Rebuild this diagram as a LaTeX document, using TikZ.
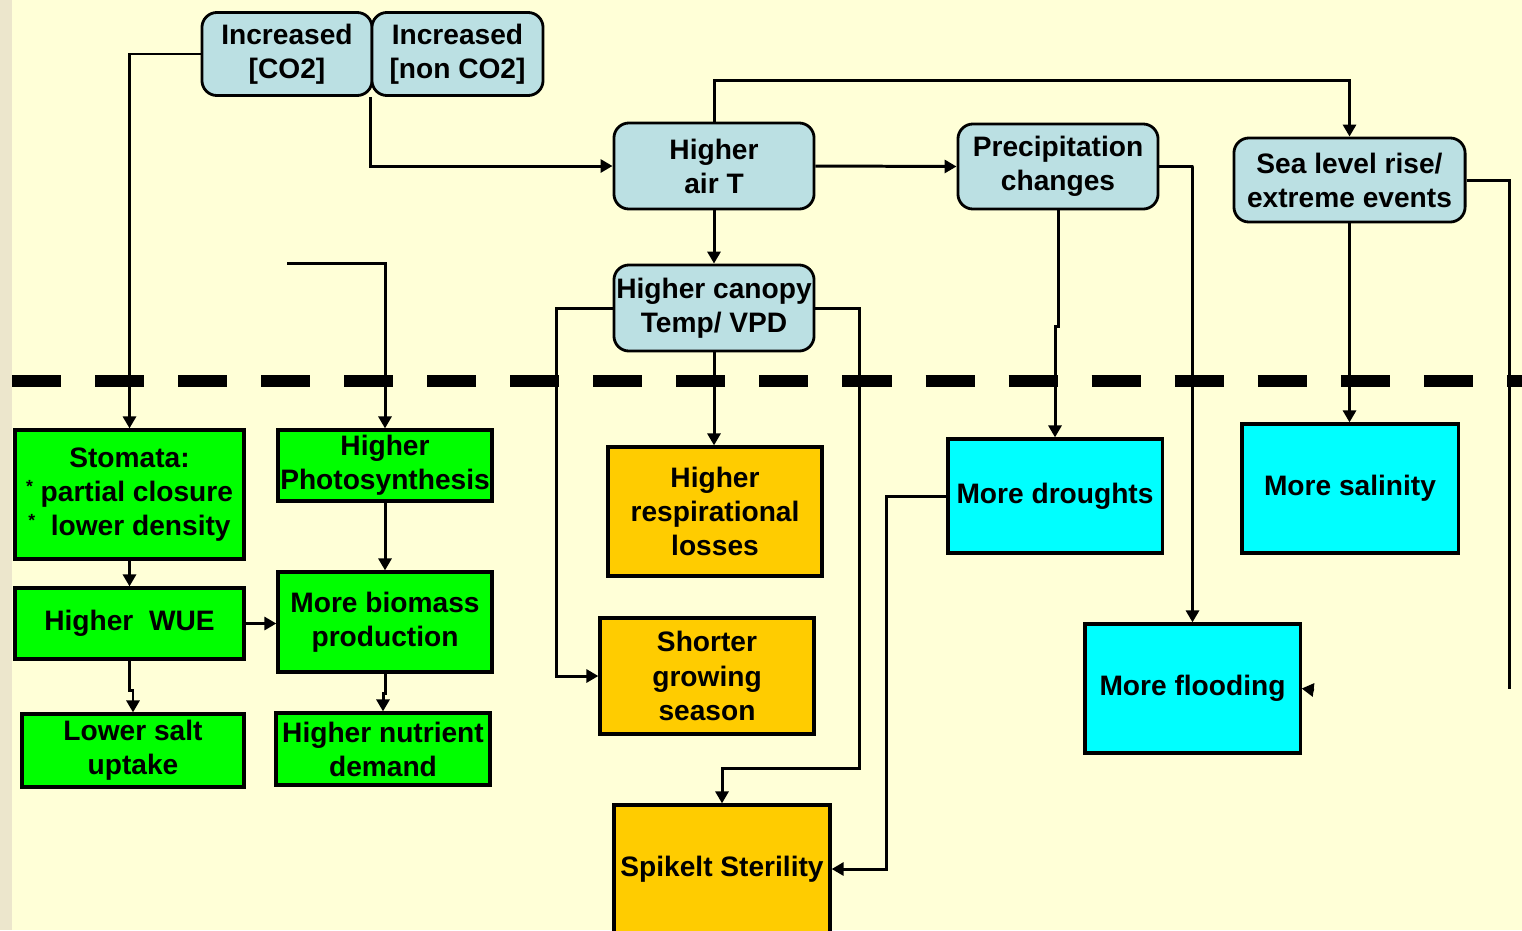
\documentclass[tikz,border=0pt]{standalone}
\usepackage{fontspec}
\setmainfont{Liberation Sans}
\usepackage{tikz}
\usetikzlibrary{arrows.meta}
\usepackage{xcolor}

\definecolor{bgyellow}{RGB}{255,255,215}
\definecolor{stripbeige}{RGB}{236,230,204}
\definecolor{driverblue}{RGB}{187,224,227}
\definecolor{plantgreen}{RGB}{0,255,0}
\definecolor{heatorange}{RGB}{255,204,0}
\definecolor{watercyan}{RGB}{0,255,255}

\newcommand{\stmark}{\raisebox{0.6ex}{\fontsize{5}{5}\selectfont *}}

\begin{document}
\begin{tikzpicture}[x=0.01cm, y=-0.01cm,
    every node/.style={font=\bfseries\fontsize{8}{9.7}\selectfont, align=center, inner sep=0pt},
    driver/.style={draw, line width=0.8pt, fill=driverblue, rounded corners=1.5mm},
    plantbox/.style={draw, line width=0.9pt, fill=plantgreen},
    heatbox/.style={draw, line width=0.9pt, fill=heatorange},
    waterbox/.style={draw, line width=0.9pt, fill=watercyan},
    link/.style={line width=0.85pt, -{Triangle[length=1.2mm,width=1.3mm]}}]

    % Background
    \fill[bgyellow] (0,0) rectangle (1522,930);
    \fill[stripbeige] (0,0) rectangle (12,930);
    \useasboundingbox (0,0) rectangle (1522,930);

    % Divider
    \draw[line width=0.12cm, dash pattern=on 0.49cm off 0.34cm] (12,381) -- (1522,381);

    % Drivers
    \node[driver, minimum width=1.70cm, minimum height=0.83cm] (co2) at (287,54) {Increased\\{[}CO2{]}};
    \node[driver, minimum width=1.71cm, minimum height=0.83cm] (nonco2) at (457.5,54) {Increased\\{[}non CO2{]}};
    \node[driver, minimum width=2.00cm, minimum height=0.86cm] (airT) at (714,166) {Higher\\air T};
    \node[driver, minimum width=2.00cm, minimum height=0.86cm] (canopy) at (714,308) {Higher canopy\\Temp/ VPD};
    \node[driver, minimum width=2.00cm, minimum height=0.85cm] (precip) at (1058,166.5) {Precipitation\\changes};
    \node[driver, minimum width=2.31cm, minimum height=0.84cm] (sealevel) at (1349.5,180) {Sea level rise/\\extreme events};

    % Plant responses
    \node[plantbox, minimum width=2.29cm, minimum height=1.29cm] (stomata) at (129.5,494.5) {Stomata:\\\stmark{} partial closure\\\stmark\ \ lower density};
    \node[plantbox, minimum width=2.29cm, minimum height=0.71cm] (wue) at (129.5,623.5) {Higher\ \ WUE};
    \node[plantbox, minimum width=2.22cm, minimum height=0.73cm] (salt) at (133,750.5) {Lower salt\\uptake};
    \node[plantbox, minimum width=2.14cm, minimum height=0.71cm] (photo) at (385,465.5) {Higher\\Photosynthesis};
    \node[plantbox, minimum width=2.14cm, minimum height=1.00cm] (biomass) at (385,622) {More biomass\\production};
    \node[plantbox, minimum width=2.14cm, minimum height=0.72cm] (nutrient) at (383,749) {Higher nutrient\\demand};

    % Heat effects
    \node[heatbox, minimum width=2.14cm, minimum height=1.29cm] (resp) at (715,511.5) {Higher\\respirational\\losses};
    \node[heatbox, minimum width=2.14cm, minimum height=1.16cm] (shorter) at (707,676) {Shorter\\growing\\season};
    \node[heatbox, minimum width=2.16cm, minimum height=1.28cm] (spikelt) at (722,869) {Spikelt Sterility};

    % Water effects
    \node[waterbox, minimum width=2.14cm, minimum height=1.14cm] (droughts) at (1055,496) {More droughts};
    \node[waterbox, minimum width=2.16cm, minimum height=1.29cm] (salinity) at (1350,488.5) {More salinity};
    \node[waterbox, minimum width=2.15cm, minimum height=1.29cm] (flooding) at (1192.5,688.5) {More flooding};

    % Free ends
    \coordinate (photostart) at (287,263);
    \coordinate (seaend) at (1509,689);
    \coordinate (floodtip) at (1314,690);

    % Connectors
    \draw[link] (co2.west) -| (stomata.north);
    \draw[link] (nonco2.south west) |- (airT.west);
    \draw[link] (airT.north) -- ++(0,-41) -| (sealevel.north);
    \draw[link] (airT.east) -- (precip.west);
    \draw[link] (airT.south) -- (canopy.north);
    \draw[link] (photostart) -| (photo.north);
    \draw[link] (canopy.west) -- ++(-56,0) |- (shorter.west);
    \draw[link] (canopy.south) -- (canopy.south |- resp.north);
    \draw[link] (canopy.east) -- ++(44,0) -- ++(0,460) -| (spikelt.north);
    \draw[link] (precip.south) -- ++(0,116) -| (droughts.north);
    \draw[link] (precip.east) -- ++(34,0) -| (flooding.north);
    \draw[link] (sealevel.south) -- (sealevel.south |- salinity.north);
    \draw[line width=0.85pt] (sealevel.east) -| (seaend);
    \draw[link] (floodtip) -- (flooding.east);
    \draw[link] (droughts.west) -- ++(-60,0) |- (spikelt.east);
    \draw[link] (stomata.south) -- (wue.north);
    \draw[link] (wue.east) -- (wue.east -| biomass.west);
    \draw[link] (wue.south) -- ++(0,30) -| (salt.north);
    \draw[link] (photo.south) -- (biomass.north);
    \draw[link] (biomass.south) -- ++(0,20) -| (nutrient.north);
\end{tikzpicture}
\end{document}
